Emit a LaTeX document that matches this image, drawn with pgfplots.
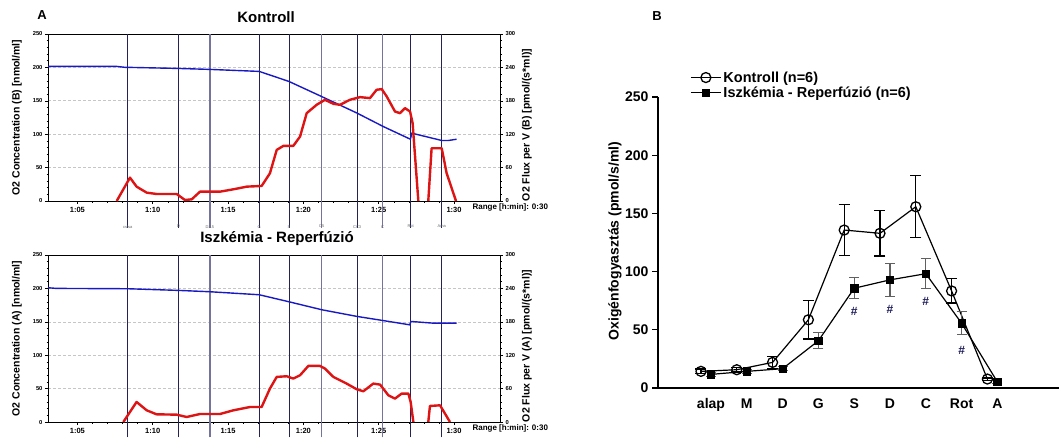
\documentclass[border=0pt]{standalone}
\usepackage{pgfplots}
\pgfplotsset{compat=1.18}
\usepackage{fontspec}
\setmainfont{Liberation Sans}
\newcommand\fs[1]{\fontsize{#1}{#1}\selectfont}
\definecolor{bl}{RGB}{25,25,195}
\definecolor{rd}{RGB}{222,20,20}
\definecolor{ev}{RGB}{35,35,85}
\definecolor{evl}{RGB}{115,115,155}
\definecolor{hash}{RGB}{30,30,90}

\pgfplotsset{
 apanel/.style={
  scale only axis, width=452pt, height=167pt, anchor=south west,
  xmin=63.05, xmax=93.05, ymin=0, ymax=250,
  axis line style={black, line width=0.6pt},
  tick align=outside, major tick length=3pt, minor tick length=1.5pt,
  tick style={black, line width=0.5pt},
  /pgf/number format/assume math mode=true,
  clip=false,
 },
 aleft/.style={
  apanel,
  ytick={0,50,...,250}, minor y tick num=4, ytick pos=left,
  xtick={65,70,...,90}, xticklabels={1:05,1:10,1:15,1:20,1:25,1:30},
  minor x tick num=4, xtick pos=bottom,
  x tick label style={font=\bfseries\fs{7.5}},
  y tick label style={font=\bfseries\fs{5.8}, xshift=1pt},
  ymajorgrids, grid style={densely dashed, gray!45, line width=0.6pt},
 },
 aright/.style={
  apanel, ymax=300,
  axis x line=none, axis y line*=right,
  ytick={0,60,...,300}, minor y tick num=4,
  y tick label style={font=\bfseries\fs{5.8}, xshift=-1pt},
 },
}
\tikzset{evlab/.style={font=\fs{4}, text=gray!80!black, anchor=north}}

\begin{document}
\begin{tikzpicture}[x=1pt,y=1pt]
\useasboundingbox (0,0) rectangle (1059,437);

% ---------------- Panel A, top (Kontroll) ----------------
\begin{axis}[aleft, at={(48pt,236pt)}]
\addplot[ev, line width=0.8pt, unbounded coords=jump] coordinates {
 (68.34,-40) (68.34,250) (68.34,nan)
 (71.72,-40) (71.72,250) (71.72,nan)
 (77.07,-40) (77.07,250) (77.07,nan)
 (79.04,-40) (79.04,250) (79.04,nan)
 (83.57,-40) (83.57,250) (83.57,nan)
 (87.12,-40) (87.12,250) (87.12,nan)
 (89.19,-40) (89.19,250)};
\addplot[evl, line width=1.1pt, unbounded coords=jump] coordinates {
 (73.80,-40) (73.80,250) (73.80,nan)
 (81.23,-40) (81.23,250) (81.23,nan)
 (85.26,-40) (85.26,250)};
\addplot[bl, line width=1.4pt] coordinates {
 (63.05,201.5) (67.6,201.5) (68.2,200) (68.5,200) (71.6,198.5) (73.8,197)
 (77.07,194) (79.04,179) (81.2,156.5) (83.57,131.5) (85.3,111.5) (87.1,92.5)
 (87.2,101.5) (89.2,90.5) (89.6,90.5) (90.17,92.5)};
\node[evlab] at (axis cs:68.34,-31) {cslsa};
\node[evlab] at (axis cs:71.72,-31) {D};
\node[evlab] at (axis cs:73.80,-31) {D2.5};
\node[evlab] at (axis cs:77.07,-31) {G};
\node[evlab] at (axis cs:79.04,-31) {S};
\node[evlab] at (axis cs:81.23,-31) {D5};
\node[evlab] at (axis cs:83.57,-31) {CC3};
\node[evlab] at (axis cs:85.26,-31) {C};
\node[evlab] at (axis cs:87.12,-31) {Rot};
\node[evlab] at (axis cs:89.19,-31) {Ama};
\end{axis}
\begin{axis}[aright, at={(48pt,236pt)}]
\addplot[rd, line width=2.4pt, line join=round, unbounded coords=jump] coordinates {
 (67.61,0) (68.49,42) (68.93,25.8) (69.60,15) (70.26,12.6) (71.59,12.6) (72.14,1.8)
 (72.59,3) (73.14,16.8) (74.47,16.8) (75.35,21) (76.24,25.8) (77.23,27) (77.78,49.8)
 (78.23,91.8) (78.67,99) (79.33,99) (79.78,115.8) (80.22,157.8) (80.88,172.8)
 (81.43,181.8) (81.99,174.6) (82.43,172.8) (83.09,181.8) (83.76,186.6) (84.42,184.8)
 (84.86,199.8) (85.20,201) (85.53,187.8) (86.08,160.8) (86.41,157.8) (86.74,166.8)
 (87.08,160.8) (87.25,139.8) (87.63,0) (87.9,nan)
 (88.29,0) (88.51,94.8) (89.18,94.8) (89.51,49.8) (90.13,0)};
\end{axis}

% ---------------- Panel A, bottom (Iszkemia) ----------------
\begin{axis}[aleft, at={(48pt,15pt)}]
\addplot[ev, line width=0.8pt, unbounded coords=jump] coordinates {
 (68.34,-23) (68.34,250) (68.34,nan)
 (71.72,-23) (71.72,250) (71.72,nan)
 (77.07,-23) (77.07,250) (77.07,nan)
 (79.04,-23) (79.04,250) (79.04,nan)
 (83.57,-23) (83.57,250) (83.57,nan)
 (87.12,-23) (87.12,250) (87.12,nan)
 (89.19,-23) (89.19,250)};
\addplot[evl, line width=1.1pt, unbounded coords=jump] coordinates {
 (73.80,-23) (73.80,250) (73.80,nan)
 (81.23,-23) (81.23,250) (81.23,nan)
 (85.26,-23) (85.26,250)};
\addplot[bl, line width=1.4pt] coordinates {
 (63.05,201) (63.6,200) (68.34,199.5) (71.72,197) (73.8,195) (77.07,190.5)
 (79.04,180) (81.23,168) (83.57,158) (85.26,152) (87.05,145.5)
 (87.15,150.5) (88.6,148) (90.17,148)};
\end{axis}
\begin{axis}[aright, at={(48pt,15pt)}]
\addplot[rd, line width=2.4pt, line join=round, unbounded coords=jump] coordinates {
 (68.05,0) (68.93,36) (69.60,21) (70.26,13.8) (71.59,13.2) (72.25,9) (73.14,14.4)
 (74.47,14.4) (75.35,21) (76.46,27) (77.23,27) (77.78,60) (78.23,81) (78.89,82.2)
 (79.33,78) (79.78,84) (80.33,100.8) (81.10,100.8) (81.43,96) (81.99,81) (82.87,69)
 (83.54,58.8) (83.98,55.2) (84.64,69) (85.09,67.2) (85.64,48) (86.08,42) (86.52,51)
 (86.97,51) (87.12,36) (87.30,0) (87.8,nan)
 (88.29,0) (88.40,28.8) (89.07,30) (89.73,0)};
\end{axis}

% ---------------- Panel B ----------------
\begin{axis}[
 at={(658pt,49pt)}, anchor=south west, scale only axis, width=401pt, height=291pt,
 xmin=-1.48, xmax=9.72, ymin=0, ymax=250,
 axis x line=bottom, axis y line=left, axis line style={-, line width=1.3pt},
 xtick={0,...,8}, xticklabels={alap,M,D,G,S,D,C,Rot,A},
 ytick={0,50,...,250}, tick align=outside, major tick length=6pt,
 tick style={line width=1.3pt, black},
 x tick style={draw=none},
 /pgf/number format/assume math mode=true,
 x tick label style={font=\bfseries\fs{14}, yshift=-1pt},
 y tick label style={font=\bfseries\fs{14}},
 clip=false,
 legend style={at={(0.08,1.095)}, anchor=north west, draw=none, fill=none,
   font=\bfseries\fs{14.5}, row sep=-1pt, inner sep=0pt, cells={anchor=west}},
 legend image code/.code={\draw[mark repeat=2,mark phase=2,#1] plot coordinates {(0pt,0pt) (15pt,0pt) (30pt,0pt)};},
]
\addplot[black, line width=1.2pt, mark=o, mark size=5pt,
  mark options={fill=white, line width=1.3pt},
  error bars/.cd, y dir=both, y explicit,
  error bar style={line width=1.3pt, black},
  error mark options={rotate=90, mark size=5.5pt, line width=1.3pt}]
 coordinates {
 (-0.28,14.3) +- (0,2)
 (0.72,15.7) +- (0,2)
 (1.72,22) +- (0,5)
 (2.72,58.6) +- (0,16.5)
 (3.72,135.7) +- (0,22)
 (4.72,132.9) +- (0,19.5)
 (5.72,155.7) +- (0,26.7)
 (6.72,83.4) +- (0,10.5)
 (7.72,7.7) +- (0,1)};
\addlegendentry{Kontroll (n=6)}
\addplot[black, line width=1.2pt, mark=square*, mark size=3.7pt,
  mark options={fill=black, line width=0.5pt},
  error bars/.cd, y dir=both, y explicit,
  error bar style={line width=1.1pt, gray!75!black},
  error mark options={rotate=90, mark size=5pt, line width=1.1pt, gray!75!black}]
 coordinates {
 (0,11.7) +- (0,1.5)
 (1,14.3) +- (0,1.5)
 (2,16.6) +- (0,1.5)
 (3,40.6) +- (0,7)
 (4,85.7) +- (0,9)
 (5,92.9) +- (0,14.3)
 (6,98.2) +- (0,12.8)
 (7,55.6) +- (0,10)
 (8,5.2) +- (0,1)};
\addlegendentry{Iszkémia - Reperfúzió (n=6)}
\node[text=hash, font=\bfseries\fs{12}] at (axis cs:4,65.6) {\#};
\node[text=hash, font=\bfseries\fs{12}] at (axis cs:5,67.6) {\#};
\node[text=hash, font=\bfseries\fs{12}] at (axis cs:6,74) {\#};
\node[text=hash, font=\bfseries\fs{12}] at (axis cs:7,32.6) {\#};
\end{axis}

% ---------------- texts ----------------
\node[font=\bfseries\fs{13}] at (42,422) {A};
\node[font=\bfseries\fs{15}] at (266,420) {Kontroll};
\node[font=\bfseries\fs{15}] at (277,198) {Iszkémia - Reperfúzió};
\node[font=\bfseries\fs{13}] at (657,421) {B};
\node[font=\bfseries\fs{10.5}, rotate=90] at (17,319.5) {O2 Concentration (B) [nmol/ml]};
\node[font=\bfseries\fs{10.5}, rotate=90] at (17,98.5) {O2 Concentration (A) [nmol/ml]};
\node[font=\bfseries\fs{10.5}, rotate=90] at (527,312) {O2 Flux per V (B) [pmol/(s*ml)]};
\node[font=\bfseries\fs{10.5}, rotate=90] at (527,91) {O2 Flux per V (A) [pmol/(s*ml)]};
\node[font=\bfseries\fs{8}, anchor=west] at (469,230) {Range [h:min]: 0:30};
\node[font=\bfseries\fs{8}, anchor=west] at (469,9) {Range [h:min]: 0:30};
\node[font=\bfseries\fs{14}, rotate=90] at (615,196) {Oxigénfogyasztás (pmol/s/ml)};
\end{tikzpicture}
\end{document}
